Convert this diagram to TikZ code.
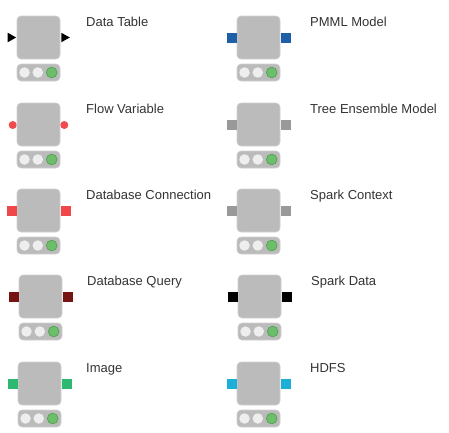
\documentclass[tikz,border=0pt]{standalone}
\usepackage{fontspec}
\setmainfont{Liberation Sans}
\usetikzlibrary{shapes.geometric}
\definecolor{boxgray}{HTML}{BBBBBB}
\definecolor{boxedge}{HTML}{CFCFCF}
\definecolor{lampwhite}{HTML}{EEEEEE}
\definecolor{lampgreen}{HTML}{6CBE6A}
\definecolor{lampgreenedge}{HTML}{4F9E4D}
\definecolor{labeltext}{HTML}{333333}
\definecolor{pmmlblue}{HTML}{1F5FA8}
\definecolor{flowred}{HTML}{F04A4E}
\definecolor{dbred}{HTML}{F0474B}
\definecolor{dbqred}{HTML}{761313}
\definecolor{imggreen}{HTML}{2EB872}
\definecolor{hdfscyan}{HTML}{1CB0D9}
\definecolor{portgray}{HTML}{999999}
\tikzset{
  box/.style={draw=boxedge, fill=boxgray, rounded corners=4pt, minimum width=43pt, minimum height=43pt, inner sep=0pt, line width=0.6pt},
  bar/.style={draw=boxedge, fill=boxgray, rounded corners=4pt, minimum width=43pt, minimum height=17pt, inner sep=0pt, line width=0.6pt},
  lamp/.style={circle, fill=lampwhite, minimum size=10.5pt, inner sep=0pt},
  lampg/.style={circle, fill=lampgreen, draw=lampgreenedge, line width=0.6pt, minimum size=10.8pt, inner sep=0pt},
  sqport/.style={minimum width=10pt, minimum height=10pt, inner sep=0pt},
  dotport/.style={circle, fill=flowred, minimum size=8pt, inner sep=0pt},
  triport/.style={isosceles triangle, isosceles triangle stretches, shape border rotate=0, minimum width=9.5pt, minimum height=8.5pt, inner sep=0pt, fill=black},
  lbl/.style={anchor=base west, text=labeltext, font=\fontsize{13}{15}\selectfont, inner sep=0pt},
}
\newcommand{\knode}[5]{%
  \node[box] (#1) at (#2+21.5,#3+21.5) {};
  \node[bar] (#1bar) at (#2+21.5,#3+56.5) {};
  \node[lamp] (#1la) at ([xshift=-14pt]#1bar.center) {};
  \node[lamp] (#1lb) at ([xshift=-0.7pt]#1bar.center) {};
  \node[lampg] (#1lc) at ([xshift=13.2pt]#1bar.center) {};
  \node[lbl] (#1t) at (#4,#3+10.3) {#5};
}
\newcommand{\sqports}[2]{%
  \node[sqport, fill=#2, anchor=east] (#1in) at ([yshift=-0.5pt]#1.west) {};
  \node[sqport, fill=#2, anchor=west] (#1out) at ([yshift=-0.5pt]#1.east) {};
}
\begin{document}
\begin{tikzpicture}[x=1pt, y=-1pt]
\useasboundingbox (0,0) rectangle (449,432);
% left column
\knode{dt}{17}{16}{86}{Data Table}
\node[triport, anchor=apex] (dtin) at (dt.west) {};
\node[triport, anchor=lower side] (dtout) at ([xshift=0.8pt]dt.east) {};
\knode{fv}{17}{103}{86}{Flow Variable}
\node[dotport] (fvin) at ([xshift=-4pt,yshift=-0.5pt]fv.west) {};
\node[dotport] (fvout) at ([xshift=4pt,yshift=-0.5pt]fv.east) {};
\knode{dbc}{17}{189}{86}{Database Connection}
\sqports{dbc}{dbred}
\knode{dbq}{19}{275}{87}{Database Query}
\sqports{dbq}{dbqred}
\knode{img}{18}{362}{86}{Image}
\sqports{img}{imggreen}
% right column
\knode{pmml}{237}{16}{310}{PMML Model}
\sqports{pmml}{pmmlblue}
\knode{tem}{237}{103}{310}{Tree Ensemble Model}
\sqports{tem}{portgray}
\knode{sc}{237}{189}{310}{Spark Context}
\sqports{sc}{portgray}
\knode{sd}{238}{275}{311}{Spark Data}
\sqports{sd}{black}
\knode{hdfs}{237}{362}{310}{HDFS}
\sqports{hdfs}{hdfscyan}
\end{tikzpicture}
\end{document}
